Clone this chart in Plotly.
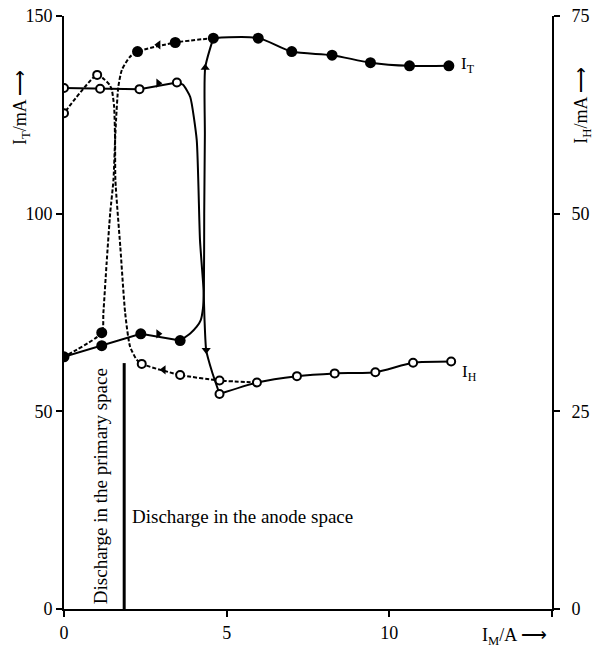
import plotly.graph_objects as go

# ---------------- data (I_M in A; I_T left axis mA; I_H right axis mA) ----------------
# I_T measured points (filled circles)
IT_fwd_x = [0, 1.16, 2.36, 3.57]
IT_fwd_y = [63.8, 66.6, 69.6, 67.9]
IT_hi_x = [4.59, 5.97, 7.0, 8.24, 9.42, 10.62, 11.83]
IT_hi_y = [144.4, 144.4, 141.0, 140.1, 138.2, 137.4, 137.4]
IT_back_x = [3.42, 2.26, 1.16]
IT_back_y = [143.3, 141.0, 69.9]

# I_T transition curves
IT_rise_x = [3.57, 3.88, 4.08, 4.20, 4.27, 4.30, 4.31, 4.33, 4.34, 4.59]
IT_rise_y = [67.9, 69.7, 71.4, 73.0, 76.0, 80.7, 100.0, 120.0, 136.9, 144.4]
IT_drop_x = [4.59, 3.42, 2.26, 2.03, 1.78, 1.67, 1.60, 1.57, 1.52, 1.42, 1.31, 1.21, 1.16, 0]
IT_drop_y = [144.4, 143.3, 141.0, 139.7, 136.4, 132.1, 123.7, 118.6, 108.5, 100.2, 87.5, 74.9, 69.9, 63.8]

# I_H measured points (open circles), right-axis mA
IH_up_x = [0, 1.11, 2.32, 3.47]
IH_up_y = [65.9, 65.8, 65.75, 66.6]
IH_lo_x = [4.78, 5.93, 7.16, 8.32, 9.57, 10.73, 11.90]
IH_lo_y = [27.2, 28.65, 29.45, 29.8, 29.95, 31.15, 31.3]
IH_back_x = [4.78, 3.57, 2.39, 1.02, 0]
IH_back_y = [28.9, 29.6, 31.0, 67.55, 62.7]

# I_H transition curves
IH_fall_x = [3.47, 3.66, 3.88, 4.08, 4.18, 4.29, 4.32, 4.37, 4.55, 4.78]
IH_fall_y = [66.6, 66.3, 64.75, 59.3, 46.65, 40.35, 36.55, 32.75, 30.0, 27.2]
IH_rise_x = [5.93, 4.78, 3.57, 2.39, 2.24, 2.03, 1.88, 1.73, 1.58, 1.57, 1.54, 1.47, 1.40, 1.25, 1.02, 0]
IH_rise_y = [28.65, 28.9, 29.6, 31.0, 31.5, 33.2, 37.45, 45.85, 54.25, 59.3, 63.55, 65.65, 66.3, 66.95, 67.55, 62.7]

# direction arrows (I_M, I_T-axis value, symbol)
ARR_x = [2.90, 2.90, 2.90, 3.06, 4.34, 4.37]
ARR_y = [133.0, 69.6, 142.7, 60.5, 136.9, 65.5]
ARR_sym = ["triangle-right", "triangle-right", "triangle-left", "triangle-left", "triangle-up", "triangle-down"]

X_TICKS = [0, 5, 10, 15]
X_TICKTEXT = ["0", "5", "10", ""]
Y_TICKS = [0, 50, 100, 150]
Y2_TICKS = [0, 25, 50, 75]
DIVIDER_X = 1.85
DIVIDER_TOP = 62.2

FONT = "Liberation Serif"
BLACK = "#000000"

fig = go.Figure()

solid = dict(color=BLACK, width=2)
dashed = dict(color=BLACK, width=2, dash="4px,2px")

# I_T lines
fig.add_trace(go.Scatter(x=IT_fwd_x, y=IT_fwd_y, mode="lines", line=solid, yaxis="y"))
fig.add_trace(go.Scatter(x=IT_rise_x, y=IT_rise_y, mode="lines", line=dict(solid, shape="spline", smoothing=0.6), yaxis="y"))
fig.add_trace(go.Scatter(x=IT_hi_x, y=IT_hi_y, mode="lines", line=dict(solid, shape="spline", smoothing=0.8), yaxis="y"))
fig.add_trace(go.Scatter(x=IT_drop_x, y=IT_drop_y, mode="lines", line=dict(dashed, shape="spline", smoothing=0.6), yaxis="y"))

# I_H lines
fig.add_trace(go.Scatter(x=IH_up_x, y=IH_up_y, mode="lines", line=solid, yaxis="y2"))
fig.add_trace(go.Scatter(x=IH_fall_x, y=IH_fall_y, mode="lines", line=dict(solid, shape="spline", smoothing=0.5), yaxis="y2"))
fig.add_trace(go.Scatter(x=IH_lo_x, y=IH_lo_y, mode="lines", line=dict(solid, shape="spline", smoothing=0.6), yaxis="y2"))
fig.add_trace(go.Scatter(x=IH_rise_x, y=IH_rise_y, mode="lines", line=dict(dashed, shape="spline", smoothing=0.6), yaxis="y2"))

# arrows
fig.add_trace(go.Scatter(x=ARR_x, y=ARR_y, mode="markers",
                         marker=dict(symbol=ARR_sym, size=8, color=BLACK, line=dict(width=0)), yaxis="y"))

# markers
fig.add_trace(go.Scatter(x=IT_fwd_x + IT_hi_x + IT_back_x, y=IT_fwd_y + IT_hi_y + IT_back_y, mode="markers",
                         marker=dict(symbol="circle", size=11, color=BLACK, line=dict(width=0)), yaxis="y"))
fig.add_trace(go.Scatter(x=IH_up_x + IH_lo_x + IH_back_x, y=IH_up_y + IH_lo_y + IH_back_y, mode="markers",
                         marker=dict(symbol="circle", size=8, color="white", line=dict(width=2, color=BLACK)), yaxis="y2"))

axis_font = dict(family=FONT, size=18, color=BLACK)
note_font = dict(family=FONT, size=19, color=BLACK)
fig.update_layout(
    width=597, height=649,
    margin=dict(l=64, r=45, t=16, b=40, autoexpand=False),
    paper_bgcolor="white", plot_bgcolor="white",
    showlegend=False,
    xaxis=dict(range=[0, 15], tickvals=X_TICKS, ticktext=X_TICKTEXT, ticks="outside", ticklen=6, tickwidth=2,
               tickcolor=BLACK, showline=True, linewidth=2, linecolor=BLACK, showgrid=False, zeroline=False,
               tickfont=axis_font, automargin=False),
    yaxis=dict(range=[0, 150], tickvals=Y_TICKS, ticks="outside", ticklen=6, tickwidth=2, tickcolor=BLACK,
               showline=True, linewidth=2, linecolor=BLACK, showgrid=False, zeroline=False, tickfont=axis_font,
               automargin=False),
    yaxis2=dict(range=[0, 75], tickvals=Y2_TICKS, overlaying="y", side="right", ticks="outside", ticklen=6,
                tickwidth=2, tickcolor=BLACK, showline=True, linewidth=2, linecolor=BLACK, showgrid=False,
                zeroline=False, tickfont=axis_font, ticklabelstandoff=8, automargin=False),
    shapes=[dict(type="line", xref="x", yref="y", x0=DIVIDER_X, x1=DIVIDER_X, y0=0, y1=DIVIDER_TOP,
                 line=dict(color=BLACK, width=3))],
    annotations=[
        dict(text="I<sub>T</sub>/mA ⟶", xref="paper", yref="paper", x=-0.086, y=0.845, textangle=-90,
             showarrow=False, font=axis_font, xanchor="center", yanchor="middle"),
        dict(text="I<sub>H</sub>/mA ⟶", xref="paper", yref="paper", x=1.063, y=0.85, textangle=-90,
             showarrow=False, font=axis_font, xanchor="center", yanchor="middle"),
        dict(text="I<sub>M</sub>/A ⟶", xref="paper", yref="paper", x=0.924, y=-0.047,
             showarrow=False, font=axis_font, xanchor="center", yanchor="middle"),
        dict(text="I<sub>T</sub>", xref="x", yref="y", x=12.15, y=137.6, showarrow=False,
             font=dict(family=FONT, size=17, color=BLACK), xanchor="left", yanchor="middle"),
        dict(text="I<sub>H</sub>", xref="x", yref="y", x=12.18, y=59.7, showarrow=False,
             font=dict(family=FONT, size=17, color=BLACK), xanchor="left", yanchor="middle"),
        dict(text="Discharge in the primary space", xref="x", yref="y", x=1.11, y=31.1, textangle=-90,
             showarrow=False, font=note_font, xanchor="center", yanchor="middle"),
        dict(text="Discharge in the anode space", xref="x", yref="y", x=2.03, y=23.3,
             showarrow=False, font=note_font, xanchor="left", yanchor="middle"),
    ],
)

fig.write_html("out.html")
